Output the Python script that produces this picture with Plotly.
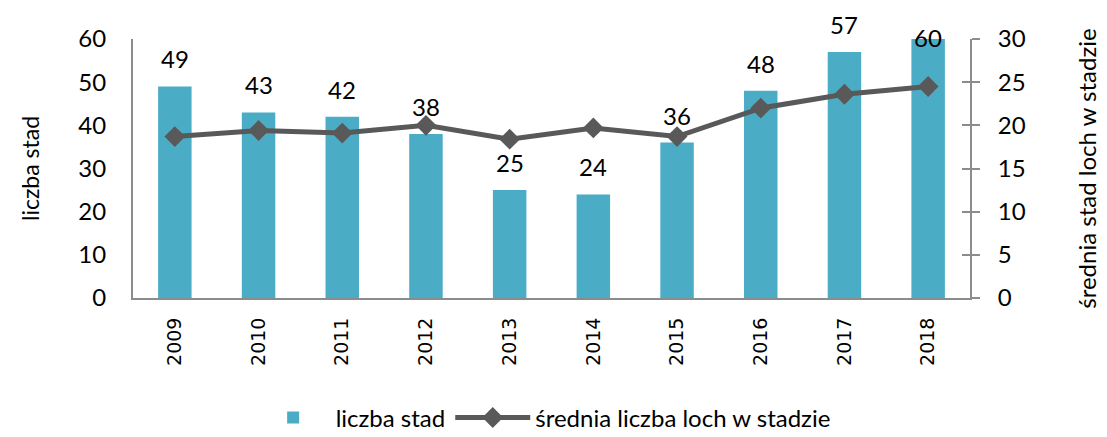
import plotly.graph_objects as go

years = [2009, 2010, 2011, 2012, 2013, 2014, 2015, 2016, 2017, 2018]
year_labels = ["2009", "2010", "2011", "2012", "2013", "2014", "2015", "2016", "2017", "2018"]
herds = [49, 43, 42, 38, 25, 24, 36, 48, 57, 60]
avg_sows = [18.7, 19.4, 19.1, 20.0, 18.4, 19.7, 18.7, 22.0, 23.6, 24.5]

left_ticks = [0, 10, 20, 30, 40, 50, 60]
right_ticks = [0, 5, 10, 15, 20, 25, 30]

FONT = "Lato"
AXIS_COLOR = "#8c8c8c"

fig = go.Figure()
fig.add_trace(go.Bar(
    x=years, y=herds, name="liczba stad",
    marker=dict(color="#4BACC6", line=dict(width=0)),
    width=0.4,
))
fig.add_trace(go.Scatter(
    x=years, y=avg_sows, name="średnia liczba loch w stadzie",
    mode="lines+markers", yaxis="y2",
    line=dict(color="#595959", width=5),
    marker=dict(symbol="diamond", size=16, color="#595959"),
))
# hidden trace carrying an inside-tick copy of the right axis (cross ticks)
fig.add_trace(go.Scatter(x=years, y=avg_sows, yaxis="y3", mode="none",
                         showlegend=False, hoverinfo="skip"))

for yr, v in zip(years, herds):
    # labels that would leave the chart are pulled down inside, as in the original
    shift = 11 if v < left_ticks[-1] else -15
    fig.add_annotation(x=yr, y=v, xref="x", yref="y", text=str(v),
                       showarrow=False, yanchor="bottom", yshift=shift,
                       font=dict(family=FONT, size=24, color="#000000"))

fig.update_layout(
    width=1099, height=429,
    margin=dict(l=125, r=137, t=31, b=139, autoexpand=False),
    paper_bgcolor="white", plot_bgcolor="white",
    font=dict(family=FONT, size=24, color="#000000"),
    xaxis=dict(
        type="linear", range=[years[0] - 0.5, years[-1] + 0.5],
        tickmode="array", tickvals=years, ticktext=year_labels,
        showline=True, linecolor=AXIS_COLOR, linewidth=2,
        ticks="", tickangle=-90, showgrid=False, automargin=False,
        tickfont=dict(family="DejaVu Sans", size=19, color="#000000"),
        ticklabelstandoff=10,
    ),
    yaxis=dict(
        range=[0, 60], tickvals=left_ticks, showgrid=False, zeroline=False,
        showline=True, linecolor=AXIS_COLOR, linewidth=2, ticks="",
        tickfont=dict(family=FONT, size=24), ticklabelstandoff=20,
        automargin=False,
        title=dict(text="liczba stad", standoff=32,
                   font=dict(family=FONT, size=23)),
    ),
    yaxis2=dict(
        range=[0, 30], tickvals=right_ticks, overlaying="y", side="right",
        showgrid=False, zeroline=False, automargin=False,
        showline=True, linecolor=AXIS_COLOR, linewidth=2,
        ticks="outside", ticklen=8, tickwidth=2, tickcolor=AXIS_COLOR,
        tickfont=dict(family=FONT, size=24), ticklabelstandoff=13,
        title=dict(text="średnia stad loch w stadzie", standoff=54,
                   font=dict(family=FONT, size=24)),
    ),
    yaxis3=dict(
        range=[0, 30], tickvals=right_ticks, overlaying="y", side="right",
        showgrid=False, zeroline=False, showline=False, automargin=False,
        ticks="inside", ticklen=8, tickwidth=2, tickcolor=AXIS_COLOR,
        showticklabels=False,
    ),
    legend=dict(
        orientation="h", x=0.49, xanchor="center", y=-0.463, yanchor="middle",
        font=dict(family=FONT, size=24), traceorder="normal",
        itemwidth=75,
    ),
)

fig.write_html("out.html")
